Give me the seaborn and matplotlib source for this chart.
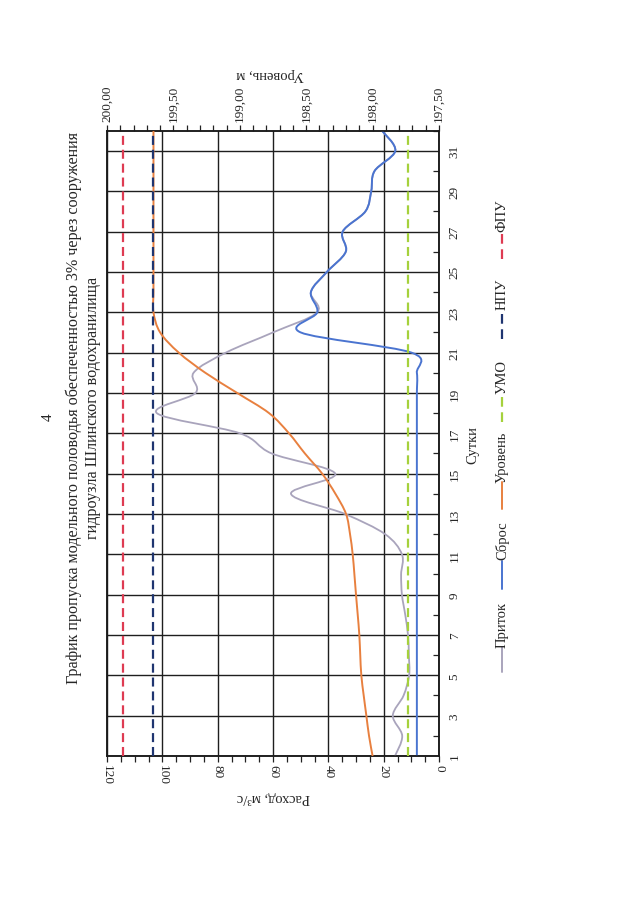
import numpy as np
import pandas as pd
import matplotlib
matplotlib.use("Agg")
import matplotlib.pyplot as plt
import seaborn as sns
from matplotlib.path import Path
from matplotlib.patches import PathPatch
from matplotlib.lines import Line2D
from matplotlib.ticker import MultipleLocator, FixedLocator, FuncFormatter

# ---------------- data ----------------
days = list(range(1, 33))
inflow = [15.9, 13.3, 16.7, 12.8, 10.8, 10.9, 11.2, 12.2, 13.4, 13.7, 13.4, 19.5,
          34.0, 53.5, 37.5, 60.5, 72.0, 102.0, 88.0, 88.7, 77.0, 60.0,
          44.0, 46.3, 40.5, 33.7, 34.8, 26.6, 24.5, 23.3, 15.8, 20.6]
outflow = [8.0] * 20 + [10.0, 50.0, 44.0, 46.3, 40.5, 33.7, 34.8, 26.6, 24.5, 23.3, 15.8, 20.6]
level = [198.00, 198.027, 198.047, 198.067, 198.085, 198.093, 198.10, 198.112, 198.125, 198.137,
         198.15, 198.17, 198.20, 198.28, 198.38, 198.51, 198.63, 198.78, 199.02, 199.26,
         199.46, 199.60] + [199.65] * 10
umo = 197.73
npu = 199.65
fpu = 199.88

legend_labels = ["Приток", "Сброс", "Уровень", "УМО", "НПУ", "ФПУ"]
title = "График пропуска модельного половодья обеспеченностью 3% через сооружения\nгидроузла Шлинского водохранилища"

# ---------------- style ----------------
sns.set_theme(style="white")
plt.rcParams["font.family"] = ["Liberation Serif", "DejaVu Serif"]
plt.rcParams["lines.scale_dashes"] = False

C_IN = "#A9A4BC"
C_OUT = "#4A74D0"
C_LVL = "#E8803F"
C_UMO = "#A5D13C"
C_NPU = "#1F3570"
C_FPU = "#DE3B52"
DASH = (0, (6.5, 3.5))

W, H = 640, 903
def fx(px):
    return px / W
def fy(py):
    return 1 - py / H

fig = plt.figure(figsize=(6.4, 9.03), dpi=100)
fig.patch.set_facecolor("white")
L, R, T, B = 107, 439, 131.7, 757
ax = fig.add_axes([fx(L), fy(B), (R - L) / W, (B - T) / H])
ax2 = ax.twiny()

def smooth_path(xs, ys):
    pts = np.column_stack([np.asarray(xs, float), np.asarray(ys, float)])
    n = len(pts)
    verts = [pts[0]]
    codes = [Path.MOVETO]
    for i in range(n - 1):
        p0 = pts[i - 1] if i > 0 else pts[i]
        p1 = pts[i]
        p2 = pts[i + 1]
        p3 = pts[i + 2] if i + 2 < n else pts[i + 1]
        verts += [p1 + (p2 - p0) / 6.0, p2 - (p3 - p1) / 6.0, p2]
        codes += [Path.CURVE4] * 3
    return Path(verts, codes)

# primary: flow (x, inverted) vs day (y)
ax.set_xlim(120, 0)
ax.set_ylim(1, 32)
ax.add_patch(PathPatch(smooth_path(inflow, days), fill=False, edgecolor=C_IN, lw=1.3, zorder=3))
ax.add_patch(PathPatch(smooth_path(outflow, days), fill=False, edgecolor=C_OUT, lw=1.4, zorder=4))

# secondary: level
ax2.set_xlim(200, 197.5)
ax2.add_patch(PathPatch(smooth_path(level, days), fill=False, edgecolor=C_LVL, lw=1.4, zorder=3))
const_df = pd.DataFrame({
    "day": days * 3,
    "lvl": [umo] * len(days) + [npu] * len(days) + [fpu] * len(days),
    "name": ["УМО"] * len(days) + ["НПУ"] * len(days) + ["ФПУ"] * len(days),
})
for name, col in [("УМО", C_UMO), ("НПУ", C_NPU), ("ФПУ", C_FPU)]:
    sub = const_df[const_df["name"] == name]
    sns.lineplot(data=sub, x="lvl", y="day", orient="y", ax=ax2, color=col,
                 lw=1.6, linestyle=DASH, legend=False, zorder=5)
ax2.set_xlim(200, 197.5)
ax2.set_ylim(1, 32)
ax2.set_xlabel("")
ax2.set_ylabel("")

# grid
ax.set_axisbelow(True)
ax.grid(True, which="major", axis="both", color="#1e1e1e", lw=1.0)
ax2.grid(False)

# flow ticks (bottom)
ax.set_xticks(range(0, 121, 20))
ax.xaxis.set_minor_locator(MultipleLocator(5))
ax.tick_params(axis="x", which="both", direction="out", length=4, width=0.9,
               color="#222222", labelsize=9.5, pad=2, labelrotation=-90, bottom=True)

# day ticks (right)
ax.yaxis.tick_right()
ax.set_yticks(range(1, 33, 2))
ax.yaxis.set_minor_locator(FixedLocator(range(2, 33, 2)))
ax.tick_params(axis="y", which="major", length=0, pad=7, labelsize=9.5, labelrotation=90)
ax.tick_params(axis="y", which="minor", direction="in", length=4, width=0.9, color="#222222")
for lab in ax.get_yticklabels():
    lab.set_va("center")

# level ticks (top)
ax2.set_xticks(np.arange(197.5, 200.01, 0.5))
ax2.xaxis.set_minor_locator(MultipleLocator(0.1))
ax2.xaxis.set_major_formatter(FuncFormatter(lambda v, p: f"{v:.2f}".replace(".", ",")))
ax2.tick_params(axis="x", which="both", direction="out", length=4, width=0.9,
                color="#222222", labelsize=9.5, pad=3, labelrotation=90)
ax2.tick_params(axis="y", which="both", length=0, labelright=False, labelleft=False)

for a in (ax, ax2):
    for s in a.spines.values():
        s.set_color("#1a1a1a")
        s.set_linewidth(1.1)

ax.set_xlabel("")
ax.set_ylabel("")

# texts
fig.text(fx(48), fy(417), "4", rotation=90, ha="center", va="center", fontsize=11)
fig.text(fx(83), fy(408), title, rotation=90, ha="center", va="center",
         fontsize=11.6, linespacing=1.25, multialignment="center")
fig.text(fx(270), fy(75), "Уровень, м", rotation=180, ha="center", va="center", fontsize=10.5)
fig.text(fx(273), fy(798), "Расход, м³/с", rotation=180, ha="center", va="center", fontsize=10.5)
fig.text(fx(473), fy(445), "Сутки", rotation=90, ha="center", va="center", fontsize=10.5)

# legend (rotated)
leg_cols = [C_IN, C_OUT, C_LVL, C_UMO, C_NPU, C_FPU]
leg_dash = [False, False, False, True, True, True]
leg_line = [(648, 673), (562, 590), (483, 510), (397, 423), (313, 340), (233, 260)]
leg_text = [625, 541, 457, 377, 294, 216]
for lab, col, dsh, (y1, y2), yt in zip(legend_labels, leg_cols, leg_dash, leg_line, leg_text):
    ln = Line2D([fx(502), fx(502)], [fy(y2), fy(y1)], transform=fig.transFigure,
                color=col, lw=1.6 if dsh else 1.4, linestyle=(0, (7, 4)) if dsh else "-")
    fig.add_artist(ln)
    fig.text(fx(502), fy(yt), lab, rotation=90, ha="center", va="center", fontsize=10.5)

fig.savefig("out.png", dpi=100, facecolor="white")
